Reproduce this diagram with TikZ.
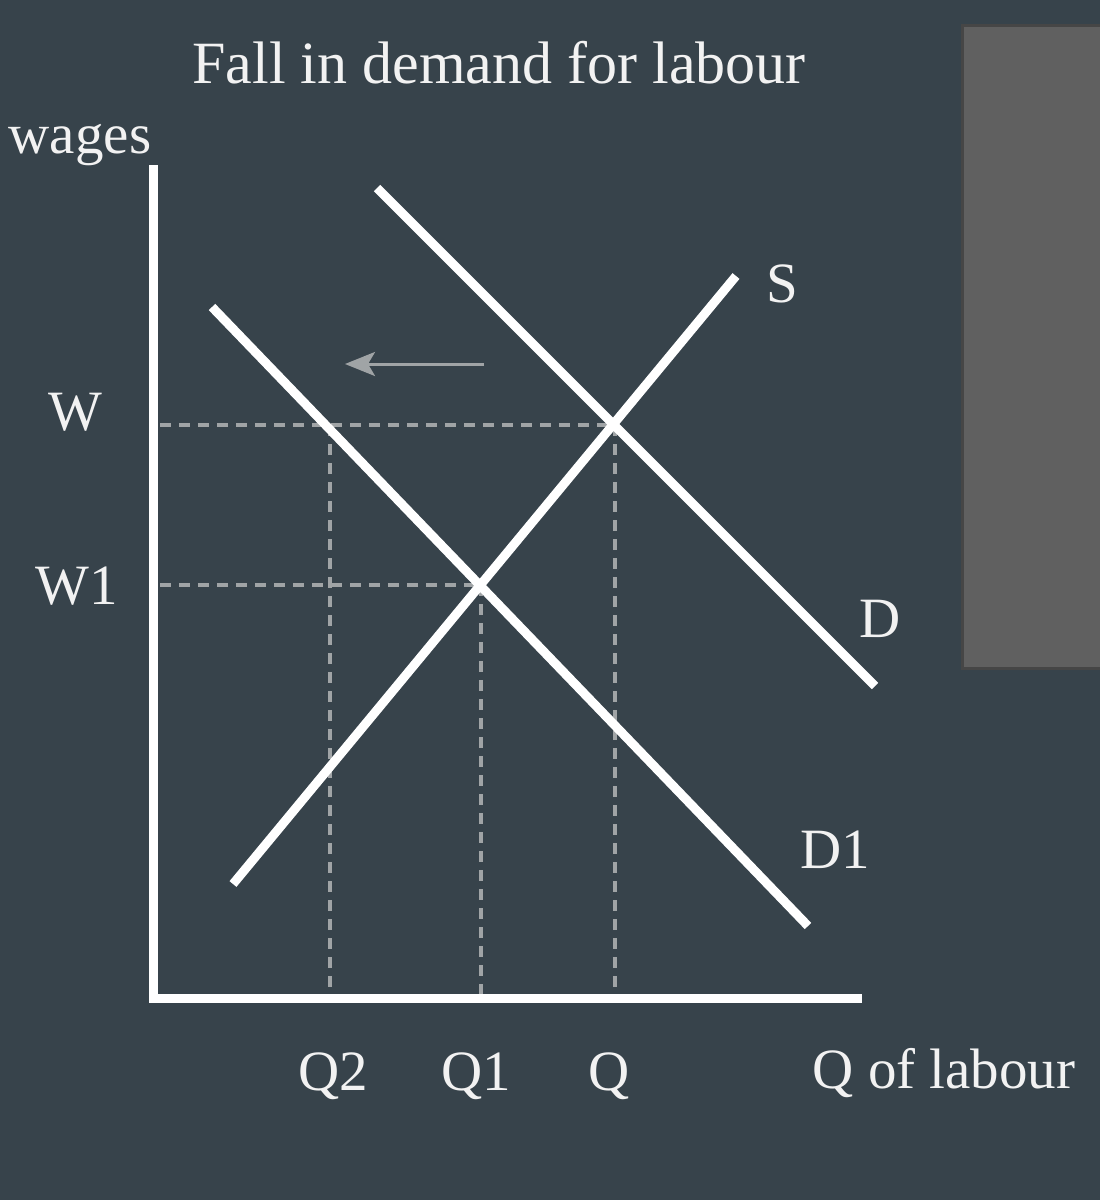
\documentclass[tikz,border=0pt]{standalone}
\usepackage{fontspec}
\setmainfont{Liberation Serif}
\usetikzlibrary{arrows.meta}
\definecolor{bg}{HTML}{37434B}
\definecolor{panel}{HTML}{606060}
\definecolor{paneledge}{HTML}{464646}
\definecolor{guide}{HTML}{A0A4A6}
\definecolor{txt}{HTML}{F2F2F2}
\tikzset{
  curve/.style={draw=white, line width=9pt, line cap=butt},
  axisline/.style={draw=white, line width=9pt, line join=miter},
  guideline/.style={draw=guide, line width=3.2pt, dash pattern=on 11pt off 8pt},
  shiftarrow/.style={draw=guide, line width=3pt, -{Stealth[length=30pt,width=24pt,inset=7pt]}},
  lbl/.style={text=txt, font=\fontsize{57}{60}\selectfont, inner sep=0pt, anchor=base},
}
\begin{document}
\begin{tikzpicture}[x=1pt,y=-1pt]
\useasboundingbox (0,0) rectangle (1100,1200);
\fill[bg] (0,0) rectangle (1100,1200);
\draw[fill=panel, draw=paneledge, line width=3pt] (962,25) rectangle (1104,668);

% coordinates
\coordinate (ytop) at (153,165);
\coordinate (origin) at (153,998);
\coordinate (xend) at (862,998);
\coordinate (Dtop) at (377,188);
\coordinate (Dbot) at (875,686);
\coordinate (D1top) at (212,307);
\coordinate (D1bot) at (808,926);
\coordinate (Sbot) at (233,884);
\coordinate (Stop) at (736,276);
\coordinate (E) at (615,425);
\coordinate (E1) at (481,585);
\coordinate (Wax) at (160,425);
\coordinate (W1ax) at (160,585);
\coordinate (Q2pt) at (330,425);
\coordinate (Q2ax) at (330,998);
\coordinate (Q1ax) at (481,998);
\coordinate (Qax) at (615,998);
\coordinate (arrS) at (484,364);
\coordinate (arrE) at (345,364);

% guides
\draw[guideline] (Wax) -- (E);
\draw[guideline] (W1ax) -- (E1);
\draw[guideline] (Q2pt) -- (Q2ax);
\draw[guideline] (E1) -- (Q1ax);
\draw[guideline] (E) -- (Qax);

% curves
\draw[curve] (Dtop) -- (Dbot);
\draw[curve] (D1top) -- (D1bot);
\draw[curve] (Sbot) -- (Stop);

% axes
\draw[axisline] (ytop) -- (origin) -- (xend);

% shift arrow
\draw[shiftarrow] (arrS) -- (arrE);

% labels
\node[lbl, font=\fontsize{60}{62}\selectfont] (title) at (499,83) {Fall in demand for labour};
\node[lbl] (wages) at (80,153) {wages};
\node[lbl] (W) at (75,430) {W};
\node[lbl] (W1) at (77,604) {W1};
\node[lbl] (S) at (782,302) {S};
\node[lbl] (D) at (880,637) {D};
\node[lbl] (D1) at (835,868) {D1};
\node[lbl] (Q2) at (333,1090) {Q2};
\node[lbl] (Q1) at (476,1090) {Q1};
\node[lbl] (Q) at (609,1090) {Q};
\node[lbl] (Qlab) at (944,1088) {Q of labour};
\end{tikzpicture}
\end{document}
